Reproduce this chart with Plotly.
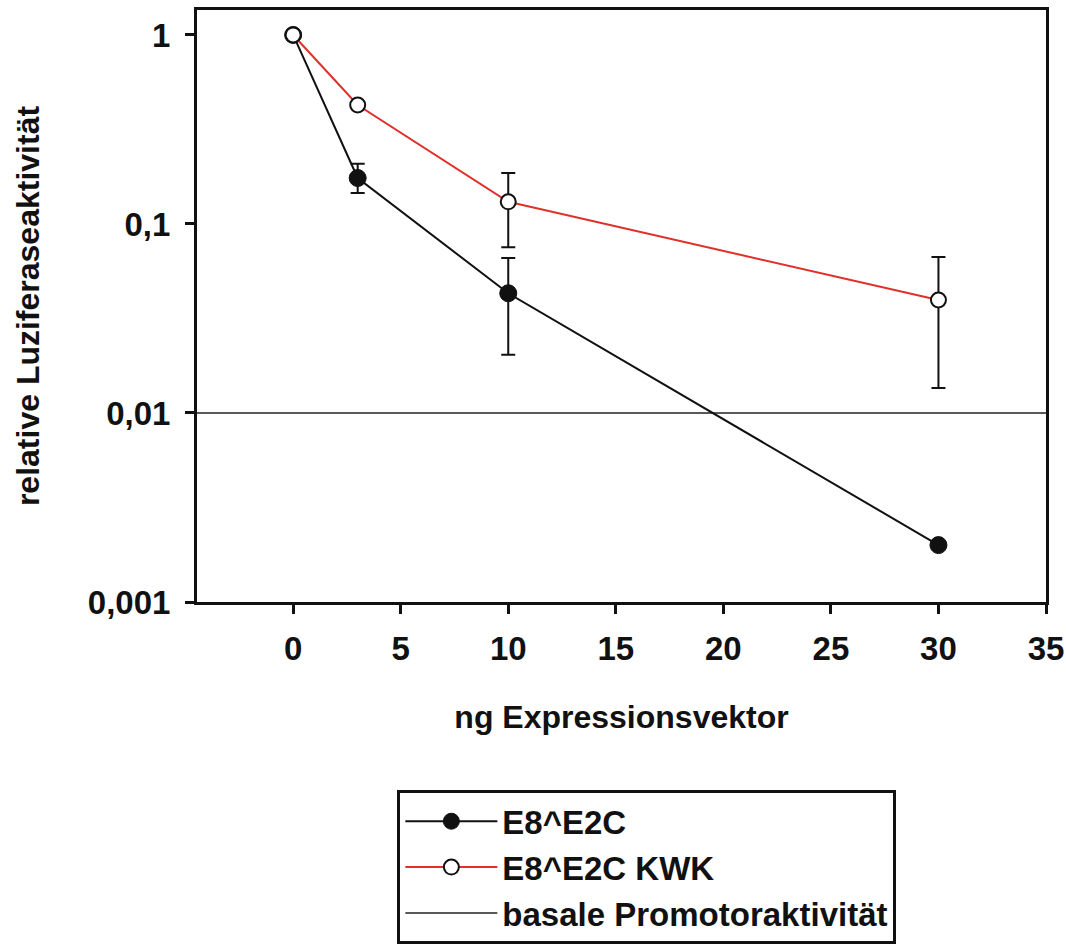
import plotly.graph_objects as go

# ng of expression vector transfected
dose = [0, 3, 10, 30]

# E8^E2C: mean relative luciferase activity and error bar bounds
e2c = [1.0, 0.175, 0.043, 0.002]
e2c_upper = [1.0, 0.208, 0.066, 0.002]
e2c_lower = [1.0, 0.146, 0.0203, 0.002]

# E8^E2C KWK mutant
kwk = [1.0, 0.426, 0.131, 0.0396]
kwk_upper = [1.0, 0.426, 0.186, 0.0669]
kwk_lower = [1.0, 0.426, 0.0754, 0.01355]

# basal promoter activity level
basal_level = 0.01
x_span = [-4.47, 35]

y_tickvals = [0.001, 0.01, 0.1, 1]
y_ticktext = ["0,001", "0,01", "0,1", "1"]
x_tickvals = [0, 5, 10, 15, 20, 25, 30, 35]

FONT = "Liberation Sans, Arial, sans-serif"
INK = "#111111"


def err(vals, hi, lo):
    return dict(
        type="data",
        symmetric=False,
        array=[h - v for v, h in zip(vals, hi)],
        arrayminus=[v - l for v, l in zip(vals, lo)],
        color=INK,
        thickness=2,
        width=7,
    )


fig = go.Figure()

fig.add_trace(go.Scatter(
    x=x_span, y=[basal_level, basal_level], mode="lines",
    line=dict(color="#222222", width=1.5),
    name="basale Promotoraktivität", legendrank=3,
))

fig.add_trace(go.Scatter(
    x=dose, y=e2c, mode="lines+markers",
    line=dict(color=INK, width=2),
    marker=dict(symbol="circle", size=17, color=INK,
                line=dict(color=INK, width=1)),
    error_y=err(e2c, e2c_upper, e2c_lower),
    name="E8^E2C", legendrank=1,
))

fig.add_trace(go.Scatter(
    x=dose, y=kwk, mode="lines+markers",
    line=dict(color="#e0302a", width=2),
    marker=dict(symbol="circle", size=15, color="white",
                line=dict(color=INK, width=2)),
    error_y=err(kwk, kwk_upper, kwk_lower),
    name="E8^E2C KWK", legendrank=2,
))

axis_common = dict(
    showline=True, linecolor=INK, linewidth=3, mirror=True,
    ticks="outside", ticklen=9, tickwidth=3, tickcolor=INK,
    showgrid=False, zeroline=False, automargin=False,
    tickfont=dict(family=FONT, size=33, color=INK, weight=700),
)

fig.update_xaxes(
    range=x_span, tickvals=x_tickvals, ticklabelstandoff=6,
    title=dict(text="ng Expressionsvektor", standoff=41,
               font=dict(family=FONT, size=32, color=INK, weight=700)),
    **axis_common,
)
fig.update_yaxes(
    type="log", range=[-3, 0.132], tickvals=y_tickvals, ticktext=y_ticktext,
    ticklabelstandoff=8,
    title=dict(text="relative Luziferaseaktivität", standoff=39,
               font=dict(family=FONT, size=32, color=INK, weight=700)),
    **axis_common,
)

fig.update_layout(
    width=1066, height=944,
    margin=dict(l=197, r=20, t=10, b=342, autoexpand=False),
    paper_bgcolor="white", plot_bgcolor="white",
    showlegend=True,
    legend=dict(
        x=0.236, y=-0.318, xanchor="left", yanchor="top",
        bordercolor=INK, borderwidth=3, bgcolor="white",
        font=dict(family=FONT, size=33, color=INK, weight=700),
        itemwidth=92, tracegroupgap=0,
    ),
)

fig.write_html("out.html")
